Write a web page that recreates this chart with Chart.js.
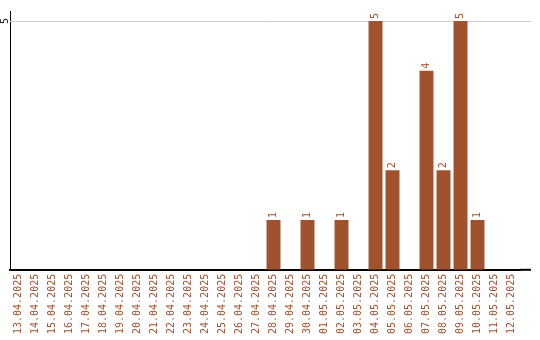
<!DOCTYPE html>
<html>
<head>
<meta charset="utf-8">
<script src="https://cdn.jsdelivr.net/npm/chart.js@4"></script>
<style>
  html, body { margin: 0; padding: 0; background: #fff; }
  #wrap { width: 540px; height: 340px; }
</style>
</head>
<body>
<div id="wrap"><canvas id="visitsChart"></canvas></div>
<script>
const days = [
  "13.04.2025", "14.04.2025", "15.04.2025", "16.04.2025", "17.04.2025",
  "18.04.2025", "19.04.2025", "20.04.2025", "21.04.2025", "22.04.2025",
  "23.04.2025", "24.04.2025", "25.04.2025", "26.04.2025", "27.04.2025",
  "28.04.2025", "29.04.2025", "30.04.2025", "01.05.2025", "02.05.2025",
  "03.05.2025", "04.05.2025", "05.05.2025", "06.05.2025", "07.05.2025",
  "08.05.2025", "09.05.2025", "10.05.2025", "11.05.2025", "12.05.2025"
];
const views = [
  0, 0, 0, 0, 0, 0, 0, 0, 0, 0, 0, 0, 0, 0, 0,
  1, 0, 1, 0, 1, 0, 5, 2, 0, 4, 2, 5, 1, 0, 0
];
const yTicks = [5];

const FONT = '10px "DejaVu Sans Mono", monospace';
const BROWN = "#a0522d";
const LINE_END = 531; // grid and baseline run a little past the last bar

const extras = {
  id: "extras",
  beforeDatasetsDraw(chart) {
    const ctx = chart.ctx;
    const y = chart.scales.y;
    const area = chart.chartArea;
    ctx.save();
    ctx.strokeStyle = "#cccccc";
    ctx.lineWidth = 1;
    yTicks.forEach(v => {
      const py = Math.round(y.getPixelForValue(v)) + 0.5;
      ctx.beginPath();
      ctx.moveTo(area.left, py);
      ctx.lineTo(LINE_END, py);
      ctx.stroke();
    });
    ctx.restore();
  },
  afterDatasetsDraw(chart) {
    const ctx = chart.ctx;
    const y = chart.scales.y;
    const area = chart.chartArea;
    ctx.save();
    ctx.font = FONT;

    ctx.strokeStyle = "#000";
    ctx.lineWidth = 2;
    ctx.beginPath();
    ctx.moveTo(area.right, area.bottom);
    ctx.lineTo(LINE_END, area.bottom);
    ctx.stroke();

    // y tick labels, rotated
    ctx.fillStyle = "#222";
    ctx.textAlign = "center";
    ctx.textBaseline = "middle";
    yTicks.forEach(v => {
      ctx.save();
      ctx.translate(5, y.getPixelForValue(v));
      ctx.rotate(-Math.PI / 2);
      ctx.fillText(String(v), 0, 0);
      ctx.restore();
    });

    // value labels
    ctx.fillStyle = BROWN;
    ctx.textAlign = "left";
    const meta = chart.getDatasetMeta(0);
    meta.data.forEach((bar, i) => {
      if (!views[i]) return;
      ctx.save();
      ctx.translate(bar.x, bar.y - 2);
      ctx.rotate(-Math.PI / 2);
      ctx.fillText(String(views[i]), 0, 0);
      ctx.restore();
    });
    ctx.restore();
  }
};

new Chart(document.getElementById("visitsChart"), {
  type: "bar",
  data: {
    labels: days,
    datasets: [{
      data: views,
      backgroundColor: BROWN,
      categoryPercentage: 1,
      barPercentage: 0.82
    }]
  },
  options: {
    responsive: true,
    maintainAspectRatio: false,
    animation: false,
    layout: { padding: { left: 10, right: 20, top: 11, bottom: 2 } },
    plugins: { legend: { display: false }, tooltip: { enabled: false } },
    scales: {
      x: {
        grid: { display: false, drawTicks: false },
        border: { color: "#000", width: 2 },
        ticks: {
          autoSkip: false,
          minRotation: 90,
          maxRotation: 90,
          padding: 4,
          color: BROWN,
          font: { family: '"DejaVu Sans Mono", monospace', size: 10 }
        }
      },
      y: {
        min: 0,
        max: 5.2,
        afterBuildTicks: axis => { axis.ticks = yTicks.map(v => ({ value: v })); },
        grid: { display: false, drawTicks: false },
        border: { color: "#000", width: 1 },
        ticks: { display: false }
      }
    }
  },
  plugins: [extras]
});
</script>
</body>
</html>
